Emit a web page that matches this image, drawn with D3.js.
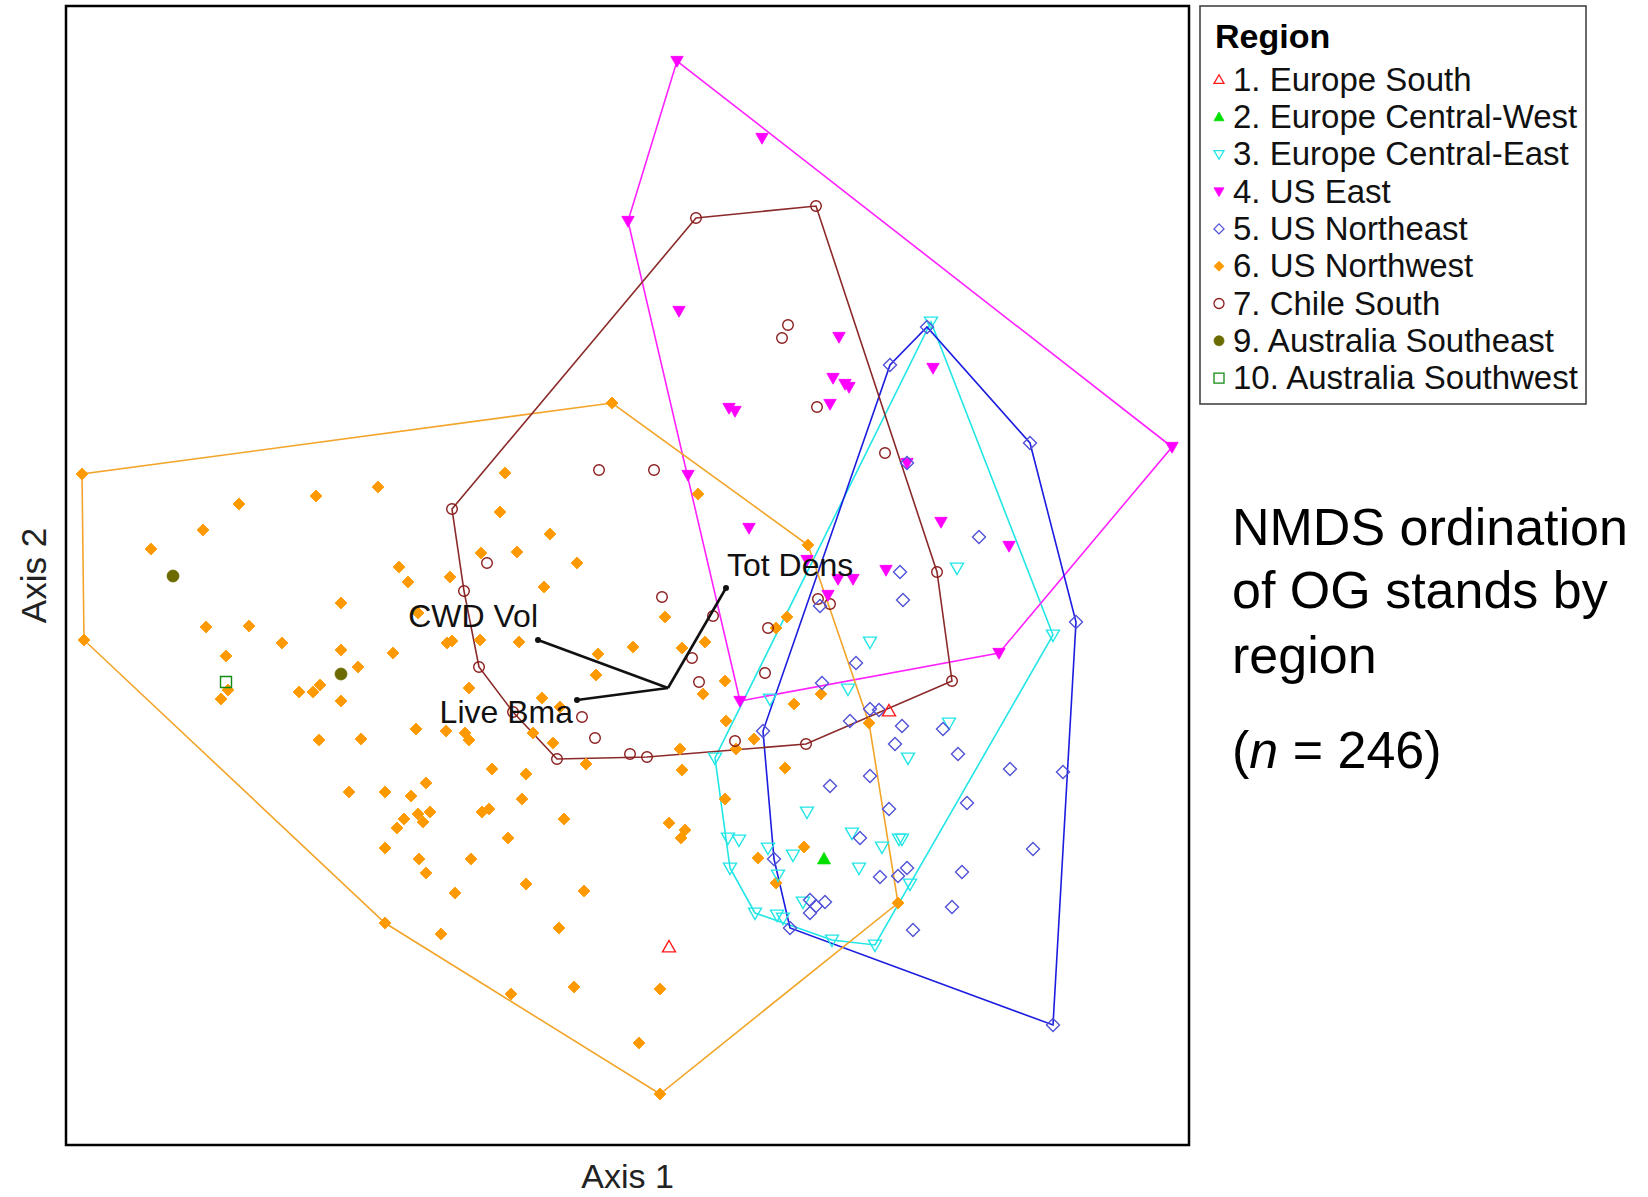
<!DOCTYPE html>
<html><head><meta charset="utf-8">
<script src="https://cdn.jsdelivr.net/npm/d3@7"></script>
<style>
body{margin:0;background:#fff;}
svg{display:block;font-family:Arial,"Liberation Sans",sans-serif;}
</style>
</head><body>
<svg id="chart" width="1648" height="1197"></svg>
<script>
// ---- Data (NMDS scores, arbitrary axis units) ----
const regionNames = ["1. Europe South","2. Europe Central-West","3. Europe Central-East","4. US East","5. US Northeast","6. US Northwest","7. Chile South","9. Australia Southeast","10. Australia Southwest"];

const europeSouth = [[60.3,19.8],[82.3,43.4]];
const europeCentralWest = [[75.8,28.6]];
const europeCentralEast = [[86.5,82.3],[98.7,51.0],[84.4,26.1],[80.9,20.0],[76.6,20.5],[68.9,23.2],[66.4,27.7],[64.9,38.7],
  [89.1,57.7],[80.4,50.3],[78.2,45.6],[70.4,44.6],[84.2,38.7],[88.3,42.2],[74.1,33.3],[78.6,31.2],[66.2,30.7],[67.3,30.5],
  [81.6,29.8],[83.3,30.6],[83.6,30.6],[70.2,29.7],[72.7,29.0],[79.3,27.7],[73.7,24.3],[71.1,23.0],[71.7,22.7],[71.2,27.0]];
const usEast = [[61.1,108.4],[110.6,69.8],[93.3,49.2],[67.4,44.4],[56.2,92.4],[69.6,100.7],[61.3,83.4],[77.3,80.8],[86.7,77.7],
  [76.7,76.7],[77.9,76.1],[78.3,75.8],[76.4,74.1],[66.3,73.7],[66.9,73.4],[62.2,67.0],[68.3,61.7],[84.1,68.2],[87.5,62.3],
  [94.3,59.9],[82.0,57.5],[77.2,56.6],[78.7,56.6],[76.2,55.0],[74.1,58.5]];
const usNortheast = [[86.1,81.8],[96.4,70.2],[101.0,52.3],[99.7,37.3],[98.7,12.0],[72.4,21.7],[70.8,28.6],[69.7,41.4],[82.4,78.0],
  [91.3,60.8],[83.4,57.3],[83.7,54.5],[84.1,68.2],[79.0,48.2],[75.4,53.9],[75.6,46.2],[80.4,43.6],[81.3,43.5],[78.4,42.4],
  [83.6,41.9],[87.7,41.6],[82.9,40.1],[89.2,39.1],[80.4,36.9],[76.4,35.9],[82.3,33.6],[90.1,34.2],[79.4,30.7],[81.4,26.8],
  [83.2,26.9],[84.1,27.7],[89.6,27.3],[74.4,24.5],[75.0,23.9],[75.9,24.3],[74.4,23.2],[88.6,23.8],[84.7,21.5],[94.4,37.6],[96.7,29.6]];
const usNorthwest = [[1.6,67.1],[1.8,50.5],[17.3,64.1],[25.0,64.9],[31.2,65.8],[13.7,61.5],[8.5,59.6],[33.3,57.8],[34.2,56.3],
  [38.4,56.8],[27.5,54.2],[14.0,51.8],[18.3,51.9],[21.6,50.2],[27.5,49.5],[32.7,49.2],[29.2,47.8],[16.0,48.9],[35.2,53.2],
  [38.1,50.2],[38.6,50.4],[23.3,45.3],[24.7,45.3],[25.4,46.0],[27.5,44.4],[15.5,44.6],[16.2,45.5],[35.0,41.6],[38.0,41.4],
  [25.3,40.5],[29.5,40.6],[28.3,35.3],[31.9,35.3],[34.5,34.9],[36.0,36.2],[35.2,33.1],[36.4,33.3],[35.7,32.3],[33.8,32.6],
  [33.1,31.7],[31.9,29.7],[35.3,28.6],[36.0,27.2],[38.9,25.2],[31.9,22.2],[37.5,21.1],[43.9,67.2],[43.4,63.3],[48.4,61.1],
  [41.5,59.2],[45.1,59.3],[51.1,58.2],[47.8,55.8],[63.2,65.1],[74.2,60.0],[59.9,52.8],[72.1,52.8],[71.0,51.7],[41.4,50.5],
  [45.3,50.3],[53.2,49.1],[56.7,49.8],[61.6,49.7],[63.9,50.3],[53.0,47.0],[65.9,46.4],[63.7,45.1],[40.3,45.7],[47.6,44.7],
  [72.8,44.1],[75.5,45.1],[66.0,42.4],[49.4,43.8],[39.9,41.2],[40.3,40.5],[46.7,41.2],[48.7,40.2],[61.4,39.6],[67.0,39.6],
  [68.8,40.6],[42.6,37.6],[46.0,37.1],[52.0,38.1],[61.6,37.5],[71.9,37.7],[54.6,74.2],[80.3,42.2],[65.9,34.6],[73.8,29.8],
  [69.2,28.7],[71.0,26.2],[83.2,24.2],[45.6,34.6],[41.6,33.3],[42.3,33.6],[49.8,32.6],[60.3,32.2],[61.9,31.5],[61.5,30.7],
  [44.2,30.7],[40.5,28.6],[46.0,26.1],[51.8,25.4],[49.3,21.7],[44.5,15.1],[50.8,15.8],[59.4,15.6],[57.3,10.2],[59.4,5.1]];
const chileSouth = [[38.6,63.6],[63.0,92.7],[75.0,93.9],[87.1,57.3],[88.6,46.4],[74.0,40.1],[49.1,38.6],[41.3,47.8],[39.8,55.4],
  [53.3,67.5],[58.8,67.5],[42.1,58.2],[59.6,54.8],[64.7,52.9],[70.2,51.7],[62.6,48.7],[63.3,46.3],[69.9,47.2],[44.7,43.3],
  [51.6,42.8],[52.9,40.7],[56.4,39.1],[58.1,38.8],[66.9,40.4],[75.2,54.6],[76.4,54.1],[72.2,82.0],[71.6,80.7],[75.1,73.8],[81.9,69.2]];
const australiaSoutheast = [[10.7,56.9],[27.5,47.1]];
const australiaSouthwest = [[16.0,46.3]];

// Biplot vectors (joint plot): origin and tips
const vectorOrigin = [60.2,45.7];
const vectorNames = ["CWD Vol","Live Bma","Tot Dens"];
const vectorTips = [[47.2,50.5],[51.1,44.5],[66.0,55.7]];

const titleLines = ["NMDS ordination","of OG stands by","region"];

// ---- Styles ----
const regionColors = ["#ff1a1a","#00e000","#22e6e6","#ff00ff","#5050d8","#ff9900","#8b1c1c","#6b6b00","#108a10"];
const hullColors   = [null,null,"#22e6e6","#ff22ff","#1c1ce0","#f2a52a","#8b2a2a",null,null];
const regionShapes = ["triUp","triUp","triDown","triDown","diamond","diamond","circle","circle","square"];
const regionFilled = [false,true,false,true,false,true,false,true,false];
const regionSizes  = [6.5,6.5,6.5,6.2,6.5,6,5.3,6,5.5];
const seriesData = [europeSouth,europeCentralWest,europeCentralEast,usEast,usNortheast,usNorthwest,chileSouth,australiaSoutheast,australiaSouthwest];

function shapePath(shape, r){
  switch(shape){
    case "triUp":   return `M0,${-r}L${r},${r*0.75}L${-r},${r*0.75}Z`;
    case "triDown": return `M0,${r}L${r},${-r*0.75}L${-r},${-r*0.75}Z`;
    case "diamond": return `M0,${-r}L${r},0L0,${r}L${-r},0Z`;
    case "square":  return `M${-r},${-r}h${2*r}v${2*r}h${-2*r}Z`;
    default:        return `M${r},0A${r},${r} 0 1,1 ${-r},0A${r},${r} 0 1,1 ${r},0Z`;
  }
}

const svg = d3.select("#chart");
const x = d3.scaleLinear().domain([0,112.3]).range([66,1189]);
const y = d3.scaleLinear().domain([0,113.9]).range([1145,6]);

// plot frame
svg.append("rect").attr("x",x(0)).attr("y",y(113.9)).attr("width",x(112.3)-x(0)).attr("height",y(0)-y(113.9))
  .attr("fill","#fff").attr("stroke","#000").attr("stroke-width",2.5);

// hulls
const hullG = svg.append("g");
seriesData.forEach((pts,i)=>{
  if(!hullColors[i] || pts.length<3) return;
  const hull = d3.polygonHull(pts.map(p=>[x(p[0]),y(p[1])]));
  hullG.append("path").attr("d","M"+hull.map(p=>p.join(",")).join("L")+"Z")
    .attr("fill","none").attr("stroke",hullColors[i]).attr("stroke-width",1.6);
});

// points
const ptG = svg.append("g");
const drawOrder = [5,6,3,2,4,0,1,7,8];
drawOrder.forEach(i=>{
  ptG.append("g").selectAll("path").data(seriesData[i]).join("path")
    .attr("transform",d=>`translate(${x(d[0])},${y(d[1])})`)
    .attr("d",shapePath(regionShapes[i],regionSizes[i]))
    .attr("fill",regionFilled[i]?regionColors[i]:"none")
    .attr("stroke",regionColors[i]).attr("stroke-width",regionFilled[i]?0.8:1.4);
});

// vectors
const vecG = svg.append("g");
const labelOffsets = [[0,-13,"end"],[-4,23,"end"],[1,-12,"start"]];
vectorTips.forEach((t,i)=>{
  vecG.append("line").attr("x1",x(vectorOrigin[0])).attr("y1",y(vectorOrigin[1]))
    .attr("x2",x(t[0])).attr("y2",y(t[1])).attr("stroke","#111").attr("stroke-width",2.6);
  vecG.append("circle").attr("cx",x(t[0])).attr("cy",y(t[1])).attr("r",3).attr("fill","#111");
  vecG.append("text").attr("x",x(t[0])+labelOffsets[i][0]).attr("y",y(t[1])+labelOffsets[i][1])
    .attr("text-anchor",labelOffsets[i][2]).attr("font-size",32).attr("fill","#111").text(vectorNames[i]);
});

// axis titles
svg.append("text").attr("x",(x(0)+x(112.3))/2).attr("y",1188).attr("text-anchor","middle")
  .attr("font-size",34).attr("fill","#222").text("Axis 1");
svg.append("text").attr("transform",`translate(46,${(y(0)+y(113.9))/2}) rotate(-90)`).attr("text-anchor","middle")
  .attr("font-size",35).attr("fill","#222").text("Axis 2");

// legend
const lg = svg.append("g");
lg.append("rect").attr("x",1200).attr("y",6).attr("width",386).attr("height",398)
  .attr("fill","#fff").attr("stroke","#444").attr("stroke-width",1.6);
lg.append("text").attr("x",1215).attr("y",48).attr("font-size",34).attr("font-weight","bold").attr("fill","#000").text("Region");
regionNames.forEach((name,i)=>{
  const by = 90.7 + 37.3*i;
  lg.append("path").attr("transform",`translate(1219,${by-11})`)
    .attr("d",shapePath(regionShapes[i],5))
    .attr("fill",regionFilled[i]?regionColors[i]:"none")
    .attr("stroke",regionColors[i]).attr("stroke-width",regionFilled[i]?0.8:1.3);
  lg.append("text").attr("x",1233).attr("y",by).attr("font-size",33).attr("fill","#111").text(name);
});

// side title
const tg = svg.append("g").attr("font-size",52).attr("fill","#000");
const titleBaselines = [545,608,673];
titleLines.forEach((t,i)=>tg.append("text").attr("x",1232).attr("y",titleBaselines[i]).text(t));
const nt = tg.append("text").attr("x",1232).attr("y",768);
nt.append("tspan").text("(");
nt.append("tspan").attr("font-style","italic").text("n");
nt.append("tspan").text(" = 246)");
</script>
</body></html>
